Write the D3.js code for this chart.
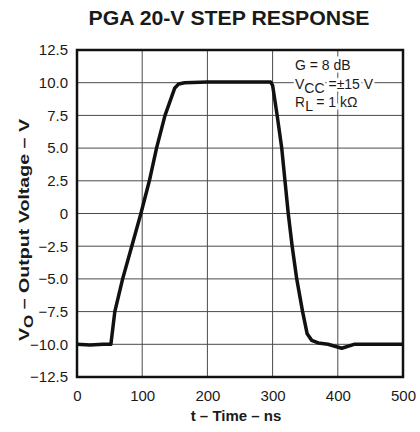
<!DOCTYPE html>
<html>
<head>
<meta charset="utf-8">
<script src="https://cdn.jsdelivr.net/npm/d3@7"></script>
<style>
  body { margin: 0; background: #fff; }
  text { font-family: "Liberation Sans", Arial, sans-serif; fill: #1a1a1a; }
</style>
</head>
<body>
<div id="chart"></div>
<script>
// chart values
var timeNs = [0, 20, 40, 52, 58, 70, 84, 98, 111, 122, 135, 150, 156, 165, 200, 250, 297,
  300, 307, 314, 319, 324, 330, 337, 346, 353, 360, 370, 385, 406, 425, 450, 500];
var voltage = [-10, -10.05, -10, -10, -7.5, -5, -2.5, 0, 2.5, 5, 7.5, 9.6, 9.9, 10.0, 10.05, 10.05, 10.05,
  9.8, 7.5, 5, 2.5, 0, -2.5, -5, -7.5, -9.2, -9.7, -9.9, -10.0, -10.3, -10.0, -10, -10];
var xTicks = [0, 100, 200, 300, 400, 500];
var yTicks = [-12.5, -10, -7.5, -5, -2.5, 0, 2.5, 5, 7.5, 10, 12.5];
var notes = ["G = 8 dB", "VCC = \u00b115 V", "RL = 1 k\u03a9"];

var svgWidth = 420;
var svgHeight = 432;

var margin = { top: 50, right: 17, bottom: 55, left: 77 };
var width = svgWidth - margin.left - margin.right;
var height = svgHeight - margin.top - margin.bottom;

var svg = d3.select("#chart")
  .append("svg")
  .attr("width", svgWidth)
  .attr("height", svgHeight);

var chartGroup = svg.append("g")
  .attr("transform", `translate(${margin.left}, ${margin.top})`);

var x = d3.scaleLinear().domain([0, 500]).range([0, width]);
var y = d3.scaleLinear().domain([-12.5, 12.5]).range([height, 0]);

// grid
chartGroup.append("g")
  .selectAll("line.vg")
  .data(xTicks)
  .enter()
  .append("line")
  .attr("x1", d => x(d)).attr("x2", d => x(d))
  .attr("y1", 0).attr("y2", height)
  .attr("stroke", "#4a4a4a").attr("stroke-width", 1);

chartGroup.append("g")
  .selectAll("line.hg")
  .data(yTicks)
  .enter()
  .append("line")
  .attr("x1", 0).attr("x2", width)
  .attr("y1", d => y(d)).attr("y2", d => y(d))
  .attr("stroke", "#4a4a4a").attr("stroke-width", 1);

// axes (labels only)
var bottomAxis = d3.axisBottom(x).tickValues(xTicks).tickSize(0).tickPadding(13)
  .tickFormat(d3.format("d"));
var leftAxis = d3.axisLeft(y).tickValues(yTicks).tickSize(0).tickPadding(9)
  .tickFormat(d => d === 0 ? "0" : d3.format(".1f")(d).replace("-", "\u2212"));

var gx = chartGroup.append("g")
  .attr("transform", `translate(0, ${height})`)
  .call(bottomAxis);
var gy = chartGroup.append("g").call(leftAxis);
[gx, gy].forEach(function(g) {
  g.select(".domain").remove();
  g.selectAll("text")
    .style("font-family", "'Liberation Sans', Arial, sans-serif")
    .style("font-size", "15px")
    .attr("fill", "#1a1a1a");
});

// notes box
var noteGroup = chartGroup.append("g");
var noteY = [20, 38.5, 57];
noteGroup.append("text")
  .attr("x", 218).attr("y", noteY[0])
  .style("font-size", "14px")
  .attr("stroke", "#fff").attr("stroke-width", 5).attr("paint-order", "stroke")
  .text(notes[0]);
var vcc = noteGroup.append("text")
  .attr("x", 218).attr("y", noteY[1])
  .style("font-size", "14px")
  .attr("stroke", "#fff").attr("stroke-width", 5).attr("paint-order", "stroke");
vcc.append("tspan").text("V");
vcc.append("tspan").attr("dy", 4).text("CC");
vcc.append("tspan").attr("dy", -4).text(" =\u00b115 V");
var rl = noteGroup.append("text")
  .attr("x", 218).attr("y", noteY[2])
  .style("font-size", "14px")
  .attr("stroke", "#fff").attr("stroke-width", 5).attr("paint-order", "stroke");
rl.append("tspan").text("R");
rl.append("tspan").attr("dy", 4).text("L");
rl.append("tspan").attr("dy", -4).text(" = 1 k\u03a9");

// curve
var line = d3.line()
  .x((d, i) => x(timeNs[i]))
  .y(d => y(d));

chartGroup.append("path")
  .datum(voltage)
  .attr("d", line)
  .attr("fill", "none")
  .attr("stroke", "#111")
  .attr("stroke-width", 3.5)
  .attr("stroke-linejoin", "round");

// frame
chartGroup.append("rect")
  .attr("width", width).attr("height", height)
  .attr("fill", "none")
  .attr("stroke", "#111")
  .attr("stroke-width", 2.5);

// titles
svg.append("text")
  .attr("x", 229).attr("y", 25)
  .attr("text-anchor", "middle")
  .attr("textLength", 281).attr("lengthAdjust", "spacingAndGlyphs")
  .style("font-size", "20px").style("font-weight", "bold")
  .text("PGA 20-V STEP RESPONSE");

svg.append("text")
  .attr("x", 236).attr("y", 421)
  .attr("text-anchor", "middle")
  .style("font-size", "15px").style("font-weight", "bold")
  .text("t \u2013 Time \u2013 ns");

var yTitle = svg.append("text")
  .attr("transform", "translate(29, 230) rotate(-90)")
  .attr("text-anchor", "middle")
  .attr("textLength", 222).attr("lengthAdjust", "spacingAndGlyphs")
  .style("font-size", "15px").style("font-weight", "bold");
yTitle.append("tspan").text("V");
yTitle.append("tspan").attr("dy", 4).style("font-size", "13px").text("O");
yTitle.append("tspan").attr("dy", -4).text(" \u2013 Output Voltage \u2013 V");
</script>
</body>
</html>
